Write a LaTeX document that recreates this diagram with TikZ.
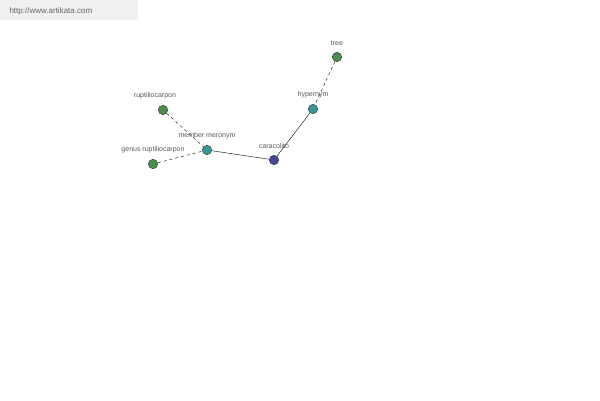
\documentclass[tikz,border=0pt]{standalone}
\usepackage{fontspec}
\setmainfont{Liberation Sans}
\definecolor{leafgreen}{RGB}{76,140,76}
\definecolor{tealish}{RGB}{56,150,150}
\definecolor{navyish}{RGB}{70,70,150}
\begin{document}
\begin{tikzpicture}[x=1pt,y=-1pt,
    dot/.style={circle,draw=black!80,inner sep=0pt,minimum size=9.5pt},
    lbl/.style={font=\fontsize{7}{8}\selectfont,text=black!65,above=3pt}]
    \useasboundingbox (0,0) rectangle (600,400);
    % watermark
    \fill[black!6] (0,0) rectangle (138,20);
    \node[anchor=west,font=\fontsize{8}{9}\selectfont,text=black!60] (url) at (6,11) {http://www.artikata.com};

    % nodes
    \node[dot,fill=leafgreen] (tree) at (337,57) {};
    \node[dot,fill=tealish] (hyper) at (313,109) {};
    \node[dot,fill=leafgreen] (rupt) at (163,110) {};
    \node[dot,fill=tealish] (mero) at (207,150) {};
    \node[dot,fill=navyish] (cara) at (274,160) {};
    \node[dot,fill=leafgreen] (genus) at (153,164) {};

    % labels
    \node[lbl] at (tree.north) {tree};
    \node[lbl] at (hyper.north) {hypernym};
    \node[lbl] at (rupt.north -| 155,0) {ruptiliocarpon};
    \node[lbl] at (mero.north) {member meronym};
    \node[lbl] at (cara.north) {caracolito};
    \node[lbl,above=0pt] at (genus.north) {genus ruptiliocarpon};

    % edges
    \draw[dashed] (tree) -- (hyper);
    \draw (hyper) -- (cara);
    \draw (mero) -- (cara);
    \draw[dashed] (rupt) -- (mero);
    \draw[dashed] (genus) -- (mero);
\end{tikzpicture}
\end{document}
